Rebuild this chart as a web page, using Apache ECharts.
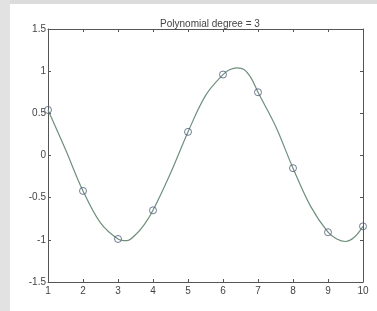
<!DOCTYPE html>
<html>
<head>
<meta charset="utf-8">
<script src="https://cdn.jsdelivr.net/npm/echarts@6/dist/echarts.min.js"></script>
<style>
  html, body { margin: 0; padding: 0; background: #fff; }
  #main { width: 377px; height: 311px; }
</style>
</head>
<body>
<div id="main"></div>
<script>
// 原始数据点 (圆圈)
var pointX = [1, 2, 3, 4, 5, 6, 7, 8, 9, 10];
var pointY = [0.54, -0.42, -0.99, -0.65, 0.28, 0.96, 0.75, -0.15, -0.91, -0.84];

// 拟合曲线
var curveX = [1, 1.5, 2, 2.5, 3, 3.25, 3.5, 3.75, 4, 4.5, 5, 5.5, 6, 6.2, 6.4, 6.6, 6.8, 7, 7.5, 8, 8.5, 9, 9.25, 9.5, 9.75, 10];
var curveY = [0.54, 0.07, -0.42, -0.80, -0.99, -1.01, -0.94, -0.82, -0.65, -0.21, 0.28, 0.71, 0.96, 1.02, 1.04, 1.02, 0.92, 0.75, 0.35, -0.15, -0.60, -0.91, -0.99, -1.02, -0.97, -0.84];

var xTicks = [1, 2, 3, 4, 5, 6, 7, 8, 9, 10];
var yTicks = [-1.5, -1, -0.5, 0, 0.5, 1, 1.5];

var chart = echarts.init(document.getElementById('main'));

function pairs(xs, ys) {
    return xs.map(function (x, i) { return [x, ys[i]]; });
}

var axisColor = '#555';
var font = { fontFamily: 'Liberation Sans, Arial, sans-serif', fontSize: 10, color: '#444' };

var option = {
    animation: false,
    backgroundColor: '#fff',
    title: {
        text: 'Polynomial degree = 3',
        left: 205,
        textAlign: 'center',
        top: 14,
        textStyle: { fontFamily: font.fontFamily, fontSize: 10, fontWeight: 'normal', color: '#444' }
    },
    // 背景水印的灰色块
    graphic: [
        { type: 'rect', shape: { x: 0, y: 0, width: 377, height: 4 }, style: { fill: '#dcdcdc' }, z: -10 },
        { type: 'rect', shape: { x: 0, y: 0, width: 10, height: 311 }, style: { fill: '#e2e2e2' }, z: -10 }
    ],
    grid: { left: 48, right: 14, top: 29, bottom: 29 },
    xAxis: [{
        type: 'value', min: xTicks[0], max: xTicks[xTicks.length - 1], interval: 1,
        position: 'bottom',
        axisLine: { onZero: false, lineStyle: { color: axisColor, width: 1 } },
        axisTick: { inside: true, length: 3, lineStyle: { color: axisColor } },
        axisLabel: Object.assign({ margin: 4 }, font),
        splitLine: { show: false }
    }, {
        type: 'value', min: xTicks[0], max: xTicks[xTicks.length - 1], interval: 1,
        position: 'top',
        axisLine: { onZero: false, lineStyle: { color: axisColor, width: 1 } },
        axisTick: { inside: true, length: 3, lineStyle: { color: axisColor } },
        axisLabel: { show: false },
        splitLine: { show: false }
    }],
    yAxis: [{
        type: 'value', min: yTicks[0], max: yTicks[yTicks.length - 1], interval: 0.5,
        position: 'left',
        axisLine: { show: true, onZero: false, lineStyle: { color: axisColor, width: 1 } },
        axisTick: { show: true, inside: true, length: 3, lineStyle: { color: axisColor } },
        axisLabel: Object.assign({ margin: 2 }, font),
        splitLine: { show: false }
    }, {
        type: 'value', min: yTicks[0], max: yTicks[yTicks.length - 1], interval: 0.5,
        position: 'right',
        axisLine: { show: true, onZero: false, lineStyle: { color: axisColor, width: 1 } },
        axisTick: { show: true, inside: true, length: 3, lineStyle: { color: axisColor } },
        axisLabel: { show: false },
        splitLine: { show: false }
    }],
    series: [{
        name: 'fit',
        type: 'line',
        data: pairs(curveX, curveY),
        smooth: 0.35,
        showSymbol: false,
        lineStyle: { color: '#6f8f7c', width: 1.2 },
        z: 2
    }, {
        name: 'data',
        type: 'scatter',
        data: pairs(pointX, pointY),
        symbol: 'circle',
        symbolSize: 7,
        itemStyle: { color: 'rgba(255,255,255,0)', borderColor: '#4d5a7a', borderWidth: 1 },
        z: 3
    }]
};

chart.setOption(option);
</script>
</body>
</html>
